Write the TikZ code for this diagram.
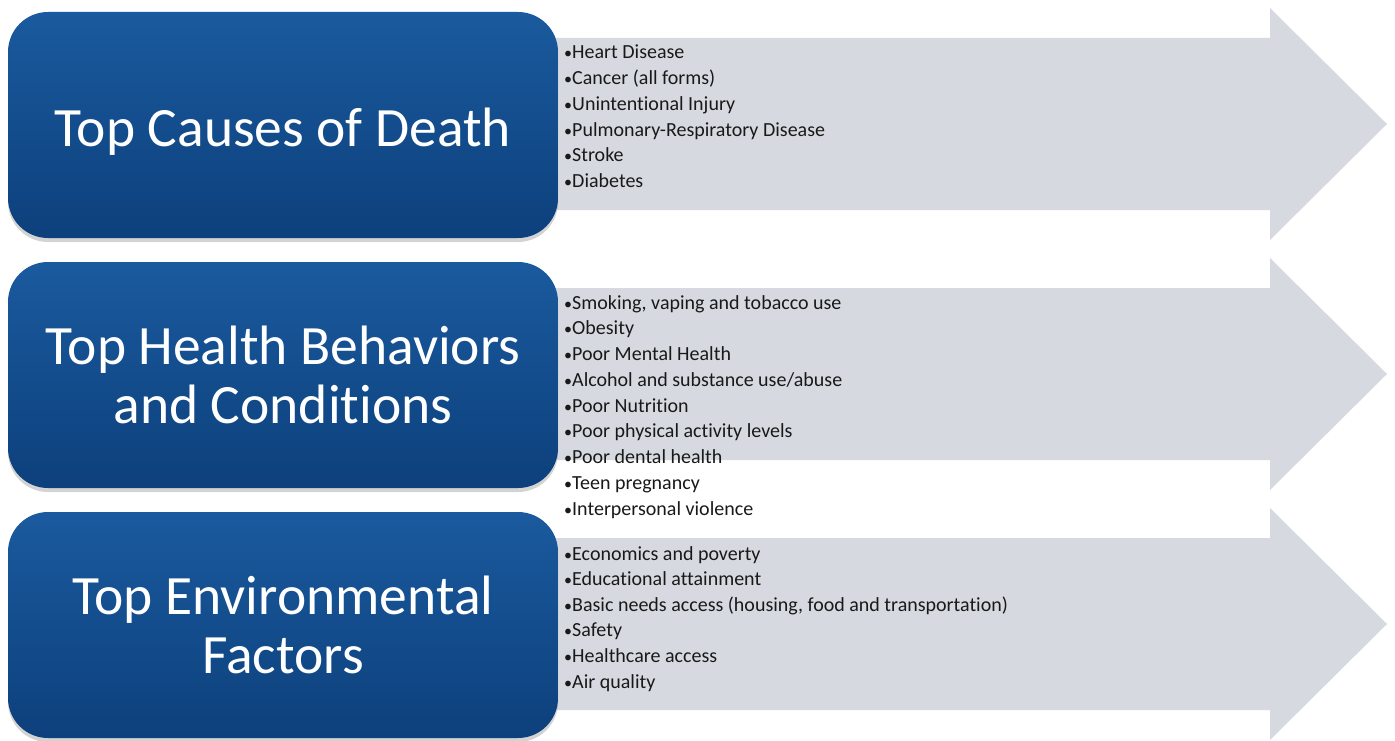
\documentclass[tikz,border=0pt]{standalone}
\usepackage{fontspec}
\setmainfont{Carlito}[Ligatures={NoCommon,NoContextual},Contextuals=NoAlternate]
\usetikzlibrary{shadows}
\definecolor{HealthBlueTop}{RGB}{26,90,158}
\definecolor{HealthBlueBot}{RGB}{13,64,124}
\definecolor{HealthArrow}{RGB}{214,218,224}
\definecolor{HealthText}{RGB}{25,25,25}
\newcommand{\hbul}{\makebox[9pt][l]{\hspace{1pt}\fontsize{16}{16}\selectfont\textbullet}}
% keep t and i apart (no "ti" ligature)
\XeTeXinterchartokenstate=1
\newXeTeXintercharclass\tclass
\newXeTeXintercharclass\iclass
\XeTeXcharclass`t=\tclass
\XeTeXcharclass`i=\iclass
\XeTeXinterchartoks\tclass\iclass={\kern0pt }

\begin{document}
\begin{tikzpicture}[x=1pt,y=-1pt,
  hbox/.style={rectangle,rounded corners=40pt,minimum width=550pt,minimum height=226pt,inner sep=0pt,
    top color=HealthBlueTop,bottom color=HealthBlueBot,text=white,
    font=\fontsize{55.5}{59}\selectfont,drop shadow={opacity=0.35,shadow xshift=0pt,shadow yshift=-4pt}},
  itm/.style={anchor=base west,inner sep=0pt,text=HealthText,font=\fontsize{20}{25}\selectfont}]
\useasboundingbox (0,0) rectangle (1395,741);
% grey arrows behind the lists
\foreach \o in {0,250,500} {
   \fill[HealthArrow] (555,38+\o) -- (1270,38+\o) -- (1270,8+\o) -- (1387,124+\o)
      -- (1270,240+\o) -- (1270,210+\o) -- (555,210+\o) -- cycle;
}
% blue headings
\node[hbox] (death) at (283,125) {\raisebox{-21pt}[0pt][0pt]{Top Causes of Death}};
\node[hbox,align=center] (behav) at (283,375) {Top Health Behaviors\\and Conditions};
\node[hbox,align=center] (envir) at (283,625) {Top Environmental\\Factors};
% bullet lists
\foreach \t [count=\i] in {Heart Disease,Cancer (all forms),Unintentional Injury,
   Pulmonary-Respiratory Disease,Stroke,Diabetes} {
   \node[itm] (cd\i) at (563,59+25.7*\i-25.7) {\hbul\t};
}
\foreach \t [count=\i] in {{Smoking, vaping and tobacco use},Obesity,Poor Mental Health,
   Alcohol and substance use/abuse,Poor Nutrition,Poor physical activity levels,
   Poor dental health,Teen pregnancy,Interpersonal violence} {
   \node[itm] (hb\i) at (563,309+25.75*\i-25.75) {\hbul\t};
}
\foreach \t [count=\i] in {Economics and poverty,Educational attainment,
   {Basic needs access (housing, food and transportation)},Safety,Healthcare access,Air quality} {
   \node[itm] (ef\i) at (563,560+25.6*\i-25.6) {\hbul\t};
}
\end{tikzpicture}
\end{document}
